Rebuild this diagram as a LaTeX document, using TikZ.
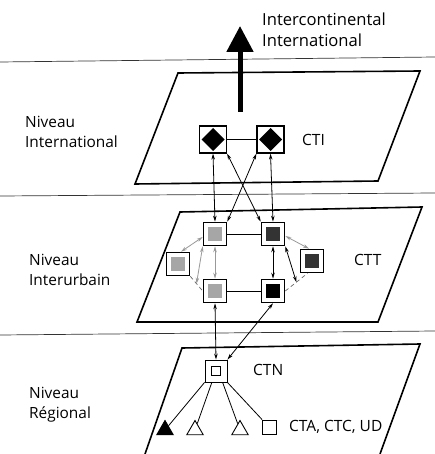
\documentclass[tikz,border=0pt]{standalone}
\usepackage{fontspec}
\setmainfont{Open Sans}
\usetikzlibrary{arrows.meta, shapes.geometric, calc}

\begin{document}
\begin{tikzpicture}[
  x=1pt, y=-1pt,
  lbl/.style={font=\fontsize{15.4}{20}\selectfont, align=left, inner sep=0pt, anchor=west},
  ctlbl/.style={font=\fontsize{15.5}{18}\selectfont, inner sep=0pt, anchor=west},
  plane/.style={line width=1.6pt, line join=miter},
  sepline/.style={line width=0.7pt, black!80},
  ctibox/.style={draw, line width=1.2pt, minimum size=27pt, inner sep=0pt,
    path picture={\fill ([yshift=-2pt]path picture bounding box.north)
      -- ([xshift=-2pt]path picture bounding box.east)
      -- ([yshift=2pt]path picture bounding box.south)
      -- ([xshift=2pt]path picture bounding box.west) -- cycle;}},
  cttbox/.style={draw, line width=1.6pt, minimum size=23pt, inner sep=0pt,
    path picture={\fill[#1] ([shift={(-7pt,-7pt)}]path picture bounding box.center)
      rectangle ([shift={(7pt,7pt)}]path picture bounding box.center);}},
  ctnbox/.style={draw, line width=0.9pt, minimum size=22pt, inner sep=0pt,
    path picture={\draw[line width=0.8pt] ([shift={(-4.5pt,-4.5pt)}]path picture bounding box.center)
      rectangle ([shift={(4.5pt,4.5pt)}]path picture bounding box.center);}},
  termtri/.style={draw, line width=0.9pt, regular polygon, regular polygon sides=3,
    minimum size=19pt, inner sep=0pt},
  sqbox/.style={draw, line width=0.9pt, minimum size=14pt, inner sep=0pt},
  plainlink/.style={line width=0.8pt},
  dlink/.style={line width=0.8pt, {Stealth[length=6pt,width=3.5pt]}-{Stealth[length=6pt,width=3.5pt]}},
  glink/.style={dlink, black!40},
  ringline/.style={line width=0.7pt, black!60, dash pattern=on 4pt off 3pt}
]
  \useasboundingbox (0,0) rectangle (435,454);

  % level separators and planes
  \draw[sepline] (0,62) -- (435,57);
  \draw[sepline] (0,196) -- (435,193);
  \draw[sepline] (0,335) -- (435,331);
  \draw[plane] (178,73) -- (420,71) -- (378,181) -- (135,184) -- cycle;
  \draw[plane] (180,212) -- (422,207) -- (378,322) -- (137,322) -- cycle;
  \draw[plane] (145,454) -- (182,348) -- (420,344) -- (380,454);

  % level names
  \node[lbl] (lvlA) at (25,132) {Niveau\\International};
  \node[lbl] (lvlB) at (29,270) {Niveau\\Interurbain};
  \node[lbl] (lvlC) at (29,405) {Niveau\\Régional};
  \node[lbl, font=\fontsize{16.6}{21}\selectfont] (ext) at (262,30) {Intercontinental\\International};

  % outgoing traffic
  \coordinate (upS) at (240,112);
  \coordinate (upT) at (240,26);
  \draw[line width=5pt, -{Triangle[length=26pt,width=26pt]}] (upS) -- (upT);

  % international centres
  \node[ctibox] (ctiA) at (213,139.5) {};
  \node[ctibox] (ctiB) at (270.5,139.5) {};
  \node[ctlbl] (ctiL) at (302,140) {CTI};
  \draw[plainlink] (ctiA) -- (ctiB);

  % trunk centres
  \node[cttbox=black!35] (cttA) at (215,234) {};
  \node[cttbox=black!80] (cttB) at (273,234) {};
  \node[cttbox=black!35] (cttC) at (178,264) {};
  \node[cttbox=black!80] (cttD) at (312,261) {};
  \node[cttbox=black!35] (cttE) at (215,291) {};
  \node[cttbox=black] (cttF) at (273,291) {};
  \node[ctlbl] (cttL) at (354,260) {CTT};
  \draw[plainlink] (cttA) -- (cttB);
  \draw[plainlink] (cttE) -- (cttF);
  \draw[glink] (cttA) -- (cttE);
  \draw[dlink] (cttB) -- (cttF);
  \draw[glink] ([yshift=-3pt]cttA.west) -- ([xshift=3pt]cttC.north);
  \draw[glink] ([yshift=-2pt]cttB.east) -- ([xshift=-3pt]cttD.north);
  \coordinate (ringL) at ($(cttC.south east)!0.5!(cttE.west)$);
  \coordinate (ringR) at ($(cttF.east)!0.5!(cttD.250)$);
  \draw[ringline] (cttC.south east) -- (cttE.west);
  \draw[ringline] (cttF.east) -- (cttD.250);
  \draw[glink] (cttA.south west) -- (ringL);
  \draw[dlink] (cttB.south east) -- (ringR);

  % links between levels
  \draw[dlink] (ctiA.south) -- (cttA.north);
  \draw[dlink] (ctiB.south) -- (cttB.north);
  \draw[dlink] (ctiA.south east) -- (cttB.north west);
  \draw[dlink] (ctiB.south west) -- (cttA.north east);

  % regional level
  \node[ctnbox] (ctn) at (216,371) {};
  \node[ctlbl] (ctnL) at (253,370) {CTN};
  \draw[dlink] (cttE.south) -- (ctn.north);
  \draw[dlink] (cttF.south) -- (ctn.north east);
  \node[termtri, fill=black] (tA) at (165,430) {};
  \node[termtri] (tB) at (195,430) {};
  \node[termtri] (tC) at (240,430) {};
  \node[sqbox] (tD) at (269,427) {};
  \node[ctlbl] (ctaL) at (289,427) {CTA, CTC, UD};
  \draw[plainlink] (ctn.south west) -- (tA);
  \draw[plainlink] (ctn.250) -- (tB);
  \draw[plainlink] (ctn.300) -- (tC);
  \draw[plainlink] (ctn.south east) -- (tD);
\end{tikzpicture}
\end{document}
